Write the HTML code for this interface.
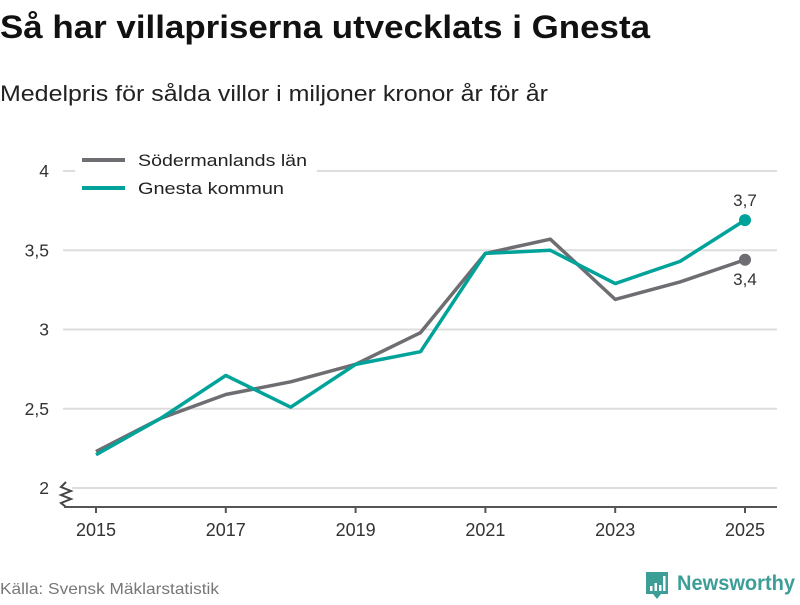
<!DOCTYPE html>
<html><head><meta charset="utf-8"><style>
body{margin:0;width:800px;height:600px;background:#fff;font-family:"Liberation Sans","DejaVu Sans",sans-serif;overflow:hidden}
</style></head><body>
<svg width="800" height="600" xmlns="http://www.w3.org/2000/svg">
<text x="0" y="38" font-size="32" font-weight="bold" fill="#111" textLength="650" lengthAdjust="spacingAndGlyphs">Så har villapriserna utvecklats i Gnesta</text>
<text x="0" y="101" font-size="22" fill="#222" textLength="548" lengthAdjust="spacingAndGlyphs">Medelpris för sålda villor i miljoner kronor år för år</text>
<g id="grid"></g>
<g id="axes"></g>
<g id="series"></g>
<g>
<rect x="75" y="147" width="242" height="55" fill="#fff"/>
<line x1="82" y1="160" x2="125" y2="160" stroke="#6e6d72" stroke-width="4"/>
<text x="138" y="166" font-size="17" fill="#222" textLength="169" lengthAdjust="spacingAndGlyphs">Södermanlands län</text>
<line x1="82" y1="188" x2="125" y2="188" stroke="#00a39a" stroke-width="4"/>
<text x="138" y="194" font-size="17" fill="#222" textLength="146" lengthAdjust="spacingAndGlyphs">Gnesta kommun</text>
</g>
<text x="0" y="594" font-size="16" fill="#777" textLength="219" lengthAdjust="spacingAndGlyphs">Källa: Svensk Mäklarstatistik</text>
<g>
<path d="M646 572h22v22h-7l-4 5-4-5h-7z" fill="#3d9e98"/>
<rect x="650" y="586" width="2.5" height="5" fill="#fff"/><rect x="654.5" y="583" width="2.5" height="8" fill="#fff"/><rect x="659" y="585" width="2.5" height="6" fill="#fff"/><rect x="663" y="576" width="2.5" height="15" fill="#fff"/>
<text x="677" y="590" font-size="21" font-weight="bold" fill="#3d9e98" textLength="118" lengthAdjust="spacingAndGlyphs">Newsworthy</text>
</g>
</svg>
<script>
const years=[2015,2016,2017,2018,2019,2020,2021,2022,2023,2024,2025];
const sodermanland=[2.23,2.44,2.59,2.67,2.78,2.98,3.48,3.57,3.19,3.30,3.44];
const gnesta=[2.21,2.44,2.71,2.51,2.78,2.86,3.48,3.50,3.29,3.43,3.69];
const yTicks=[2,2.5,3,3.5,4];
const yTickLabels=["2","2,5","3","3,5","4"];
const xTicks=[2015,2017,2019,2021,2023,2025];
const NS="http://www.w3.org/2000/svg";
const xS=v=>96+(v-2015)*(745-96)/10;
const yS=v=>488-(v-2)*(488-171)/2;
function mk(tag,attrs,parent){const e=document.createElementNS(NS,tag);for(const k in attrs)e.setAttribute(k,attrs[k]);parent.appendChild(e);return e;}
const grid=document.getElementById('grid'),axes=document.getElementById('axes'),ser=document.getElementById('series');
yTicks.forEach((t,i)=>{
 const l=mk('line',{x1:t===2?72:63,x2:777,y1:yS(t),y2:yS(t),stroke:'#ddd','stroke-width':2},grid);
 
 
 const tx=mk('text',{x:49,y:yS(t)+6,'text-anchor':'end','font-size':17.5,fill:'#333'},axes);
 tx.textContent=yTickLabels[i];
 
 
});
const zz=mk('path',{d:'M66 482 L61 487 L71 491 L61 495 L71 499 L61 503 L66 507',fill:'none',stroke:'#444','stroke-width':2},axes);


const ax=mk('line',{x1:64,x2:777,y1:507,y2:507,stroke:'#555','stroke-width':2},axes);


xTicks.forEach(t=>{
 const tk=mk('line',{x1:xS(t),x2:xS(t),y1:507,y2:513,stroke:'#555','stroke-width':2},axes);
 
 
 const tx=mk('text',{x:xS(t),y:536,'text-anchor':'middle','font-size':18,fill:'#333'},axes);
 tx.textContent=t;
 
 
});
function drawLine(vals,color,name,labelDy){
 const p=mk('polyline',{points:vals.map((v,i)=>xS(years[i])+','+yS(v)).join(' '),fill:'none',stroke:color,'stroke-width':3.5,'stroke-linejoin':'round'},ser);
 
 
 const last=vals[vals.length-1],lx=xS(years[years.length-1]);
 const c=mk('circle',{cx:lx,cy:yS(last),r:6,fill:color},ser);
 
 
 const t=mk('text',{x:lx,y:yS(last)+labelDy,'text-anchor':'middle','font-size':17,fill:'#333'},ser);
 t.textContent=last.toFixed(1).replace('.',',');
 
 
}
drawLine(sodermanland,'#6e6d72','sodermanland',25);
drawLine(gnesta,'#00a39a','gnesta',-14);
</script>
</body></html>
